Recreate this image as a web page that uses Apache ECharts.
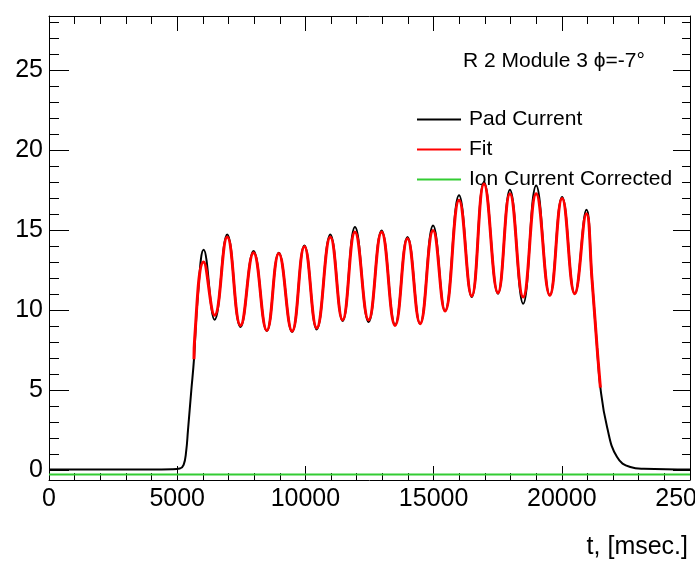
<!DOCTYPE html>
<html>
<head>
<meta charset="utf-8">
<script src="https://cdn.jsdelivr.net/npm/echarts@6/dist/echarts.min.js"></script>
<style>
html,body{margin:0;padding:0;background:#fff;}
#c{width:695px;height:561px;}
</style>
</head>
<body>
<div id="c"></div>
<script>
// ---- data ----
var padCurrent = [
  [0, 0.05], [3000, 0.05], [4800, 0.07], [5100, 0.12], [5250, 0.35], [5350, 1.2],
  [5420, 2.5], [5550, 5.0], [5654, 6.94], [5800, 10.8], [6031, 13.79], [6459, 9.42],
  [6952, 14.75], [7471, 8.96], [7977, 13.71], [8495, 8.71], [8962, 13.6], [9481, 8.65],
  [9962, 14.06], [10441, 8.81], [10973, 14.75], [11452, 9.33], [11933, 15.21], [12465, 9.27],
  [12970, 15.0], [13500, 9.1], [13982, 14.58], [14474, 9.17], [14981, 15.31], [15447, 9.96],
  [15992, 17.19], [16486, 10.83], [16965, 18.02], [17510, 11.04], [17977, 17.54], [18494, 10.42],
  [19000, 17.81], [19533, 10.94], [20012, 17.08], [20506, 11.04], [20961, 16.29], [21180, 11.9],
  [21375, 7.7], [21505, 5.17], [21765, 2.71], [22155, 0.83], [22672, 0.21], [23200, 0.1],
  [25000, 0.05]
];
var fitCurve = [
  [5654, 6.94], [5681, 8.23], [6031, 13.02], [6459, 9.69], [6952, 14.58], [7471, 9.06],
  [7977, 13.6], [8495, 8.75], [8962, 13.55], [9481, 8.7], [9962, 14.0], [10441, 8.9],
  [10973, 14.58], [11452, 9.4], [11933, 14.9], [12465, 9.4], [12970, 14.9], [13500, 9.06],
  [13982, 14.5], [14474, 9.17], [14981, 15.0], [15447, 9.96], [15992, 16.88], [16486, 10.9],
  [16965, 17.9], [17510, 11.1], [17977, 17.29], [18494, 10.83], [19000, 17.29], [19533, 10.94],
  [20012, 17.0], [20506, 11.04], [20961, 16.04], [21180, 11.9], [21375, 7.7], [21505, 5.17]
];
var ionCorrected = [[0, -0.25], [25000, -0.25]];
var yMajorTicks = [0, 5, 10, 15, 20, 25];
var yMinorTicks = [1, 2, 3, 4, 6, 7, 8, 9, 11, 12, 13, 14, 16, 17, 18, 19, 21, 22, 23, 24, 26, 27, 28];
var seriesNames = ['Pad Current', 'Fit', 'Ion Current Corrected'];
var annotation = 'R 2 Module 3 \u03D5=-7\u00B0';
var xTitle = 't, [msec.]';
var X_MIN = 0, X_MAX = 25000, X_STEP = 5000, Y_MIN = -0.6, Y_MAX = 28.4;

var FONT = '"Liberation Sans", Arial, Helvetica, sans-serif';
var chart = echarts.init(document.getElementById('c'), null, {renderer: 'canvas'});

function plain(v) { return String(v); }

function xAx(pos, len, mlen, labels) {
  return {
    type: 'value', position: pos, min: X_MIN, max: X_MAX, interval: X_STEP,
    axisLine: {show: true, onZero: false, lineStyle: {color: '#000', width: 1}},
    axisTick: {show: true, inside: true, length: len, lineStyle: {color: '#000', width: 1}},
    minorTick: {show: true, splitNumber: 5, length: mlen, lineStyle: {color: '#000', width: 1}},
    axisLabel: {show: labels, color: '#000', fontSize: 25, fontFamily: FONT, margin: 7,
      showMinLabel: true, showMaxLabel: true, hideOverlap: false, formatter: plain},
    splitLine: {show: false}, minorSplitLine: {show: false}
  };
}
function yAx(pos, vals, len, labels, line) {
  return {
    type: 'value', position: pos, min: Y_MIN, max: Y_MAX,
    axisLine: {show: line, onZero: false, lineStyle: {color: '#000', width: 1}},
    axisTick: {show: true, inside: true, length: len, customValues: vals, lineStyle: {color: '#000', width: 1}},
    axisLabel: {show: labels, customValues: vals, color: '#000', fontSize: 25, fontFamily: FONT, margin: 6, formatter: plain},
    splitLine: {show: false}
  };
}

chart.setOption({
  animation: false,
  backgroundColor: '#fff',
  grid: {left: 49, right: 5, top: 16, bottom: 81, containLabel: false, outerBoundsMode: 'none'},
  xAxis: [xAx('bottom', 14, 7, true), xAx('top', 15, 8, false)],
  yAxis: [
    yAx('left', yMajorTicks, 20, true, true),
    yAx('left', yMinorTicks, 10, false, false),
    yAx('right', yMajorTicks, 17, false, true),
    yAx('right', yMinorTicks, 8, false, false)
  ],
  legend: {
    orient: 'vertical', left: 416, top: 109, itemWidth: 44, itemHeight: 14, itemGap: 9,
    padding: 0,
    itemStyle: {opacity: 0},
    textStyle: {fontSize: 21, fontFamily: FONT, color: '#000', padding: [0, 0, 0, 3]},
    data: seriesNames
  },
  graphic: [
    {type: 'text', left: 463, top: 51, style: {text: annotation, fontSize: 21, fontFamily: FONT, fill: '#000'}},
    {type: 'text', right: 7, top: 535, style: {text: xTitle, fontSize: 25, fontFamily: FONT, fill: '#000'}}
  ],
  series: [
    {name: seriesNames[0], type: 'line', data: padCurrent, xAxisIndex: 0, yAxisIndex: 0,
      symbol: 'none', smooth: 0.45, lineStyle: {color: '#000', width: 2}, itemStyle: {color: '#000'}, z: 3},
    {name: seriesNames[1], type: 'line', data: fitCurve, xAxisIndex: 0, yAxisIndex: 0,
      symbol: 'none', smooth: 0.45, lineStyle: {color: '#ff0000', width: 3}, itemStyle: {color: '#ff0000'}, z: 4},
    {name: seriesNames[2], type: 'line', data: ionCorrected, xAxisIndex: 0, yAxisIndex: 0,
      symbol: 'none', lineStyle: {color: '#33cc33', width: 2}, itemStyle: {color: '#33cc33'}, z: 2}
  ]
});
</script>
</body>
</html>
